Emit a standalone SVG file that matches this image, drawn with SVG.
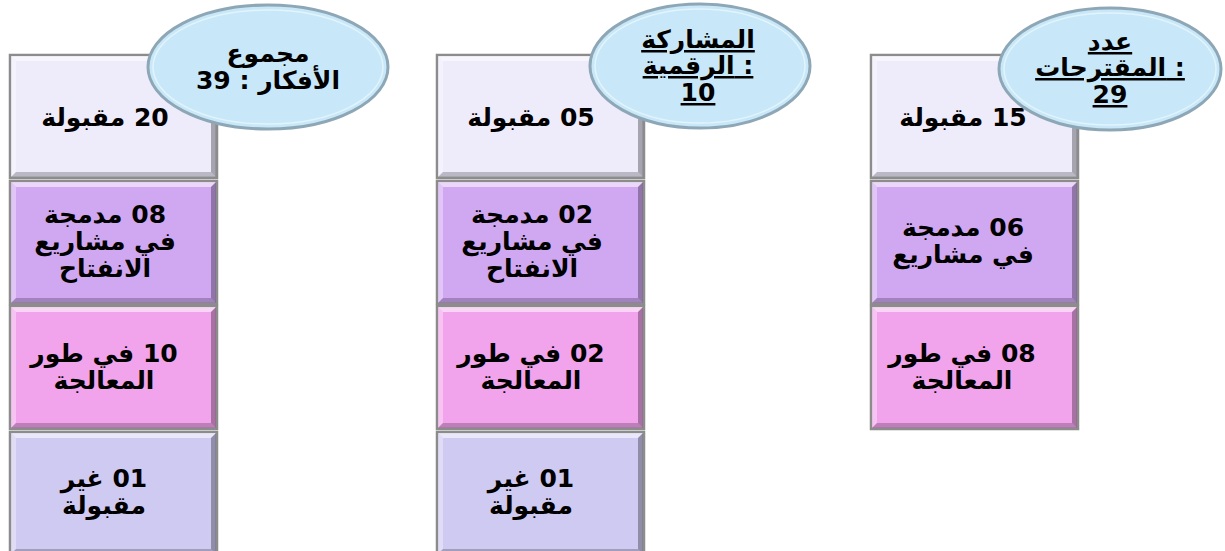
<svg xmlns="http://www.w3.org/2000/svg" xmlns:xlink="http://www.w3.org/1999/xlink" width="1225" height="551" viewBox="0 0 1225 551">
<style>
.t{font-family:"DejaVu Sans","Noto Sans",sans-serif;font-weight:bold;font-size:25px;fill:#000;text-anchor:middle;direction:rtl}
.l{direction:ltr}
.u{text-decoration:underline}
.b{stroke:#8c8c8c;stroke-width:2.5}
.c1{fill:#eeecfb}.c2{fill:#d0a7f1}.c3{fill:#f1a3eb}.c4{fill:#cfcaf1}
.el{fill:#c8e8f9;stroke:#8ea7b6;stroke-width:3}
.eli{fill:none;stroke:#e9f6fc;stroke-width:1.5;opacity:.8}
</style>
<defs>
<g id="bevel">
<polygon points="1,1 206,1 201,6 6,6" fill="#fff" opacity=".55"/>
<polygon points="1,1 6,6 6,117 1,122" fill="#fff" opacity=".35"/>
<polygon points="1,122 6,117 201,117 206,122" fill="#000" opacity=".22"/>
<polygon points="206,1 206,122 201,117 201,6" fill="#000" opacity=".3"/>
</g>
</defs>
<rect width="1225" height="551" fill="#fff"/>
<g id="connectors"/>

<g id="col1">
<g id="c1b1"><rect class="b c1" x="10" y="55" width="207" height="123"/><use xlink:href="#bevel" x="10" y="55"/><text class="t" x="105" y="126">20 مقبولة</text></g>
<g id="c1b2"><rect class="b c2" x="10" y="181" width="207" height="123"/><use xlink:href="#bevel" x="10" y="181"/><text class="t"><tspan x="105" y="223">08 مدمجة</tspan><tspan x="105" y="250">في مشاريع</tspan><tspan x="105" y="277">الانفتاح</tspan></text></g>
<g id="c1b3"><rect class="b c3" x="10" y="306" width="207" height="123"/><use xlink:href="#bevel" x="10" y="306"/><text class="t"><tspan x="104" y="362">10 في طور</tspan><tspan x="104" y="389">المعالجة</tspan></text></g>
<g id="c1b4"><rect class="b c4" x="10" y="432" width="207" height="123"/><use xlink:href="#bevel" x="10" y="432"/><text class="t"><tspan x="104" y="487">01 غير</tspan><tspan x="104" y="514">مقبولة</tspan></text></g>
<g id="c1e"><ellipse class="el" cx="268" cy="67" rx="120" ry="62"/><ellipse class="eli" cx="268" cy="67" rx="115" ry="57"/><text class="t"><tspan x="268" y="62">مجموع</tspan><tspan x="268" y="89">الأفكار : 39</tspan></text></g>
</g>

<g id="col2">
<g id="c2b1"><rect class="b c1" x="437" y="55" width="207" height="123"/><use xlink:href="#bevel" x="437" y="55"/><text class="t" x="531" y="126">05 مقبولة</text></g>
<g id="c2b2"><rect class="b c2" x="437" y="181" width="207" height="123"/><use xlink:href="#bevel" x="437" y="181"/><text class="t"><tspan x="532" y="223">02 مدمجة</tspan><tspan x="532" y="250">في مشاريع</tspan><tspan x="532" y="277">الانفتاح</tspan></text></g>
<g id="c2b3"><rect class="b c3" x="437" y="306" width="207" height="123"/><use xlink:href="#bevel" x="437" y="306"/><text class="t"><tspan x="531" y="362">02 في طور</tspan><tspan x="531" y="389">المعالجة</tspan></text></g>
<g id="c2b4"><rect class="b c4" x="437" y="432" width="207" height="123"/><use xlink:href="#bevel" x="437" y="432"/><text class="t"><tspan x="531" y="487">01 غير</tspan><tspan x="531" y="514">مقبولة</tspan></text></g>
<g id="c2e"><ellipse class="el" cx="700" cy="66" rx="110" ry="62"/><ellipse class="eli" cx="700" cy="66" rx="105" ry="57"/><text class="t u l" direction="ltr"><tspan x="698" y="48">&#x200E;المشاركة</tspan><tspan x="698" y="74">&#x200E;الرقمية :</tspan><tspan x="698" y="101">10</tspan></text></g>
</g>

<g id="col3">
<g id="c3b1"><rect class="b c1" x="871" y="55" width="207" height="123"/><use xlink:href="#bevel" x="871" y="55"/><text class="t" x="963" y="126">15 مقبولة</text></g>
<g id="c3b2"><rect class="b c2" x="871" y="181" width="207" height="123"/><use xlink:href="#bevel" x="871" y="181"/><text class="t"><tspan x="963" y="236">06 مدمجة</tspan><tspan x="963" y="263">في مشاريع</tspan></text></g>
<g id="c3b3"><rect class="b c3" x="871" y="306" width="207" height="123"/><use xlink:href="#bevel" x="871" y="306"/><text class="t"><tspan x="962" y="362">08 في طور</tspan><tspan x="962" y="389">المعالجة</tspan></text></g>
<g id="c3e"><ellipse class="el" cx="1110" cy="69" rx="111" ry="61"/><ellipse class="eli" cx="1110" cy="69" rx="106" ry="56"/><text class="t u l" direction="ltr"><tspan x="1110" y="50">&#x200E;عدد</tspan><tspan x="1110" y="76">&#x200E;المقترحات :</tspan><tspan x="1110" y="103">29</tspan></text></g>
</g>
</svg>
